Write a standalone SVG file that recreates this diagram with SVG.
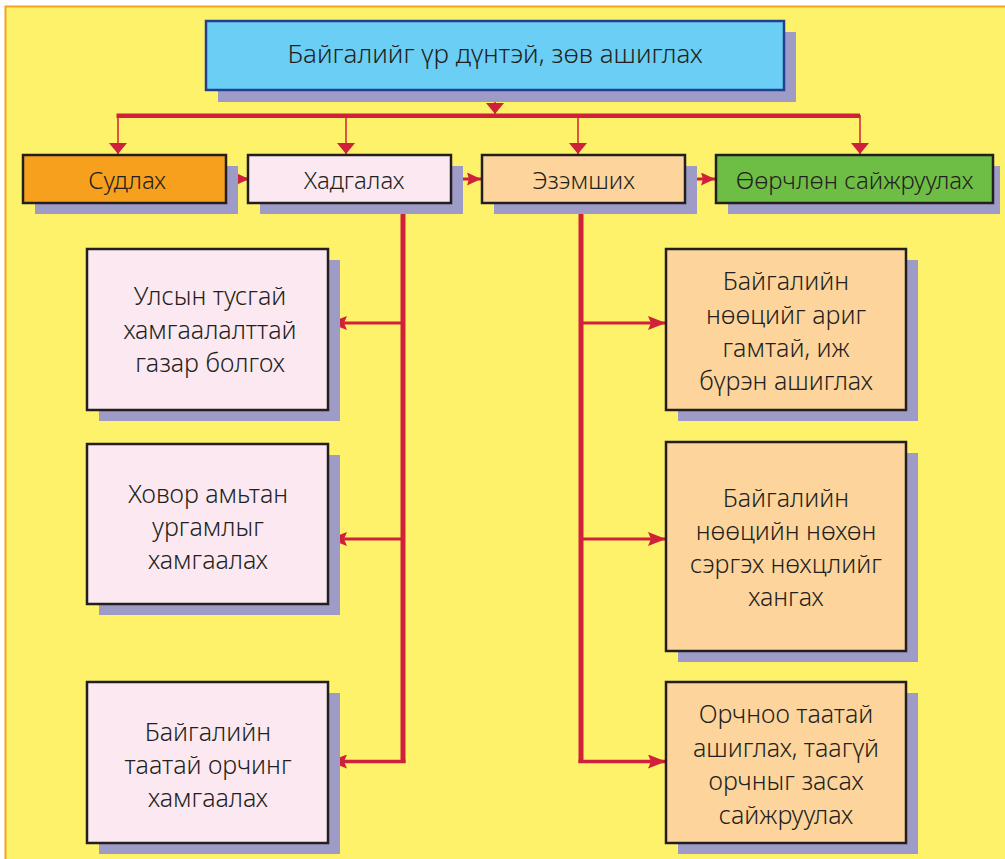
<svg xmlns="http://www.w3.org/2000/svg" width="1005" height="859" viewBox="0 0 1005 859">
<defs>
<style>
.box{stroke:#231F20;stroke-width:2.5}
.sh{fill:#9E9CC6}
.t{font-family:"Noto Sans","Open Sans","DejaVu Sans",sans-serif;font-size:25px;font-weight:300;fill:#231F20;text-anchor:middle}
.t2{font-family:"Noto Sans","Open Sans","DejaVu Sans",sans-serif;font-size:24px;font-weight:300;fill:#231F20;text-anchor:middle}
.t3{font-family:"Noto Sans","Open Sans","DejaVu Sans",sans-serif;font-size:26px;font-weight:300;fill:#231F20;text-anchor:middle}
.c{stroke:#D0213B;fill:none}
</style>
<marker id="ah" markerUnits="userSpaceOnUse" markerWidth="18" markerHeight="14" refX="18" refY="7" orient="auto">
<path d="M0,0 L18,7 L0,14 L3,7 z" fill="#D0213B"/>
</marker>
<marker id="ahd" markerUnits="userSpaceOnUse" markerWidth="11" markerHeight="18" refX="11" refY="9" orient="auto">
<path d="M0,0 L11,9 L0,18 z" fill="#D0213B"/>
</marker>
<marker id="ahs" markerUnits="userSpaceOnUse" markerWidth="14" markerHeight="13" refX="14" refY="6.5" orient="auto">
<path d="M0,0 L14,6.5 L0,13 L2,6.5 z" fill="#D0213B"/>
</marker>
</defs>
<rect x="0" y="0" width="1005" height="859" fill="#FFFFFF"/>
<rect x="5.5" y="6.5" width="1010" height="860" fill="#FFF26B" stroke="#F7A21C" stroke-width="2"/>

<g id="connectors">
<line class="c" x1="495" y1="90" x2="495" y2="114" stroke-width="1.5" marker-end="url(#ahd)"/>
<line class="c" x1="116.5" y1="115.7" x2="860" y2="115.7" stroke-width="4.5"/>
<line class="c" x1="118" y1="115" x2="118" y2="154" stroke-width="1.5" marker-end="url(#ahd)"/>
<line class="c" x1="346" y1="115" x2="346" y2="154" stroke-width="1.5" marker-end="url(#ahd)"/>
<line class="c" x1="578" y1="115" x2="578" y2="154" stroke-width="1.5" marker-end="url(#ahd)"/>
<line class="c" x1="860" y1="115" x2="860" y2="154" stroke-width="1.5" marker-end="url(#ahd)"/>
<line class="c" x1="226" y1="179" x2="249" y2="179" stroke-width="3" marker-end="url(#ahs)"/>
<line class="c" x1="451" y1="179" x2="481" y2="179" stroke-width="3" marker-end="url(#ahs)"/>
<line class="c" x1="685" y1="179" x2="715" y2="179" stroke-width="3" marker-end="url(#ahs)"/>
<line class="c" x1="403" y1="203" x2="403" y2="763" stroke-width="5"/>
<line class="c" x1="403" y1="323" x2="329" y2="323" stroke-width="3" marker-end="url(#ah)"/>
<line class="c" x1="403" y1="539" x2="329" y2="539" stroke-width="3" marker-end="url(#ah)"/>
<line class="c" x1="405.5" y1="761.5" x2="329" y2="761.5" stroke-width="3.5" marker-end="url(#ah)"/>
<line class="c" x1="581" y1="203" x2="581" y2="763" stroke-width="5"/>
<line class="c" x1="581" y1="323" x2="666" y2="323" stroke-width="3" marker-end="url(#ah)"/>
<line class="c" x1="581" y1="539" x2="666" y2="539" stroke-width="3" marker-end="url(#ah)"/>
<line class="c" x1="578.5" y1="761.5" x2="666" y2="761.5" stroke-width="3.5" marker-end="url(#ah)"/>
</g>

<g id="top">
<rect class="sh" x="218" y="32" width="578" height="70"/>
<rect x="206" y="21" width="578" height="69" fill="#6BCFF5" stroke="#22408F" stroke-width="2.5"/>
<text class="t3" x="495" y="63">Байгалийг үр дүнтэй, зөв ашиглах</text>
</g>

<g id="sudlah">
<rect class="sh" x="35" y="166" width="203" height="48"/>
<rect class="box" x="23" y="155" width="203" height="48" fill="#F7A01E"/>
<text class="t2" x="127" y="189">Судлах</text>
</g>
<g id="hadgalah">
<rect class="sh" x="260" y="166" width="203" height="48"/>
<rect class="box" x="248" y="155" width="203" height="48" fill="#FCE8F1"/>
<text class="t2" x="354" y="189">Хадгалах</text>
</g>
<g id="ezemshih">
<rect class="sh" x="494" y="166" width="203" height="48"/>
<rect class="box" x="482" y="155" width="203" height="48" fill="#FDD49B"/>
<text class="t2" x="583.5" y="189">Эзэмших</text>
</g>
<g id="oorchlon">
<rect class="sh" x="728" y="166" width="272" height="48"/>
<rect class="box" x="716" y="155" width="277" height="48" fill="#6EBE45"/>
<text class="t2" x="854.5" y="189">Өөрчлөн сайжруулах</text>
</g>

<g id="left1">
<rect class="sh" x="99" y="260" width="241" height="161"/>
<rect class="box" x="87" y="249" width="241" height="161" fill="#FCE8F1"/>
<text class="t" x="210" y="305">Улсын тусгай</text>
<text class="t" x="210" y="339">хамгаалалттай</text>
<text class="t" x="210" y="372">газар болгох</text>
</g>
<g id="left2">
<rect class="sh" x="99" y="455" width="241" height="160"/>
<rect class="box" x="87" y="444" width="241" height="160" fill="#FCE8F1"/>
<text class="t" x="208" y="503">Ховор амьтан</text>
<text class="t" x="208" y="536">ургамлыг</text>
<text class="t" x="208" y="569">хамгаалах</text>
</g>
<g id="left3">
<rect class="sh" x="99" y="693" width="241" height="161"/>
<rect class="box" x="87" y="682" width="241" height="161" fill="#FCE8F1"/>
<text class="t" x="208" y="741">Байгалийн</text>
<text class="t" x="208" y="774">таатай орчинг</text>
<text class="t" x="208" y="807">хамгаалах</text>
</g>

<g id="right1">
<rect class="sh" x="678" y="260" width="240" height="161"/>
<rect class="box" x="666" y="249" width="240" height="161" fill="#FDD49B"/>
<text class="t" x="786" y="290">Байгалийн</text>
<text class="t" x="786" y="324">нөөцийг ариг</text>
<text class="t" x="786" y="357">гамтай, иж</text>
<text class="t" x="786" y="390">бүрэн ашиглах</text>
</g>
<g id="right2">
<rect class="sh" x="678" y="453" width="240" height="209"/>
<rect class="box" x="666" y="442" width="240" height="209" fill="#FDD49B"/>
<text class="t" x="786" y="507">Байгалийн</text>
<text class="t" x="786" y="540">нөөцийн нөхөн</text>
<text class="t" x="786" y="573">сэргэх нөхцлийг</text>
<text class="t" x="786" y="606">хангах</text>
</g>
<g id="right3">
<rect class="sh" x="678" y="693" width="240" height="161"/>
<rect class="box" x="666" y="682" width="240" height="161" fill="#FDD49B"/>
<text class="t" x="786" y="723">Орчноо таатай</text>
<text class="t" x="786" y="757">ашиглах, таагүй</text>
<text class="t" x="786" y="790">орчныг засах</text>
<text class="t" x="786" y="824">сайжруулах</text>
</g>
</svg>
